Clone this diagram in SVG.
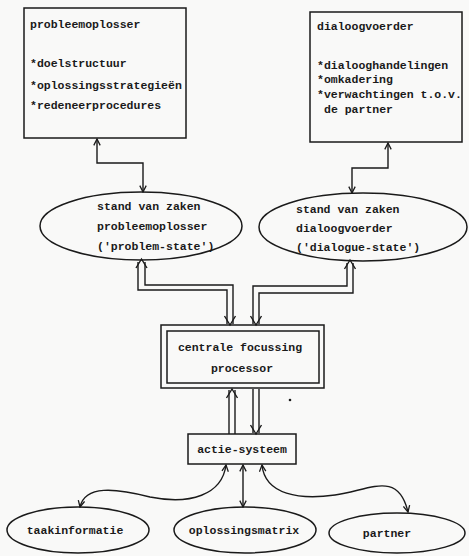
<svg xmlns="http://www.w3.org/2000/svg" width="469" height="556" viewBox="0 0 469 556">
<style>
text{font-family:"Liberation Mono","DejaVu Sans Mono",monospace;font-size:11.5px;fill:#1a1a1a;font-weight:bold}
.s{fill:none;stroke:#1a1a1a;stroke-width:1.5}
.c{fill:none;stroke:#1a1a1a;stroke-width:1.4}
</style>
<defs>
<marker id="a" viewBox="0 0 10 10" refX="9" refY="5" markerWidth="8" markerHeight="8" markerUnits="userSpaceOnUse" orient="auto-start-reverse">
<path d="M1,1 L9,5 L1,9" fill="none" stroke="#1a1a1a" stroke-width="1.6"/>
</marker>
</defs>
<rect width="469" height="556" fill="#f9f9f8"/>
<g id="probleemoplosser">
<rect class="s" x="24" y="8" width="162" height="130"/>
<text x="30" y="28">probleemoplosser</text>
<text x="30" y="67">*doelstructuur</text>
<text x="30" y="89">*oplossingsstrategieën</text>
<text x="30" y="109">*redeneerprocedures</text>
</g>
<g id="dialoogvoerder">
<rect class="s" x="310" y="12" width="152" height="130"/>
<text x="317" y="30">dialoogvoerder</text>
<text x="317" y="69">*dialooghandelingen</text>
<text x="317" y="83">*omkadering</text>
<text x="317" y="98">*verwachtingen t.o.v.</text>
<text x="324" y="113">de partner</text>
</g>
<g id="problem-state">
<ellipse class="s" cx="141" cy="226" rx="101" ry="34"/>
<text x="97" y="210">stand van zaken</text>
<text x="97" y="230">probleemoplosser</text>
<text x="97" y="250">('problem-state')</text>
</g>
<g id="dialogue-state">
<ellipse class="s" cx="363" cy="227" rx="104" ry="34"/>
<text x="296" y="213">stand van zaken</text>
<text x="296" y="232">dialoogvoerder</text>
<text x="296" y="251">('dialogue-state')</text>
</g>
<g id="processor">
<rect class="s" x="161" y="325" width="163" height="63"/>
<rect class="s" x="167" y="331" width="152" height="52"/>
<text x="240" y="351" text-anchor="middle">centrale focussing</text>
<text x="242" y="372" text-anchor="middle">processor</text>
</g>
<g id="actie-systeem">
<rect class="s" x="188" y="434" width="108" height="30"/>
<text x="242" y="453" text-anchor="middle">actie-systeem</text>
</g>
<g id="taakinformatie">
<ellipse class="s" cx="78" cy="530" rx="71" ry="23"/>
<text x="75" y="534" text-anchor="middle">taakinformatie</text>
</g>
<g id="oplossingsmatrix">
<ellipse class="s" cx="245" cy="530" rx="71" ry="23"/>
<text x="244" y="534" text-anchor="middle">oplossingsmatrix</text>
</g>
<g id="partner">
<ellipse class="s" cx="397" cy="533" rx="68" ry="20"/>
<text x="387" y="537" text-anchor="middle">partner</text>
</g>
<g id="connectors">
<path class="c" d="M97,139 V163 H143 V192" marker-start="url(#a)" marker-end="url(#a)"/>
<path class="c" d="M388,143 V168 H352 V193" marker-start="url(#a)" marker-end="url(#a)"/>
<path class="c" d="M138,262 V290 H227 V324"/>
<path class="c" d="M145,262 V285 H233 V324"/>
<path class="c" d="M136,268 L141.5,259 L147,268"/>
<path class="c" d="M224.5,316 L230,325 L235.5,316"/>
<path class="c" d="M347,263 V286 H253 V324"/>
<path class="c" d="M353,263 V293 H259 V324"/>
<path class="c" d="M344.5,269 L350,260 L355.5,269"/>
<path class="c" d="M250.5,316 L256,325 L261.5,316"/>
<path class="c" d="M229,434 V390"/>
<path class="c" d="M235,434 V390"/>
<path class="c" d="M226.5,398 L232,389 L237.5,398"/>
<path class="c" d="M253,389 V433"/>
<path class="c" d="M259,389 V433"/>
<path class="c" d="M250.5,425 L256,434 L261.5,425"/>
<path class="c" d="M226,465 C222,495 190,505 150,497 C115,488 85,485 80,507" marker-start="url(#a)" marker-end="url(#a)"/>
<path class="c" d="M243,465 V507" marker-start="url(#a)" marker-end="url(#a)"/>
<path class="c" d="M262,465 C265,495 300,500 335,495 C370,490 398,470 408,512" marker-start="url(#a)" marker-end="url(#a)"/>
<circle cx="290" cy="400" r="1.3" fill="#1a1a1a"/>
</g>
</svg>
